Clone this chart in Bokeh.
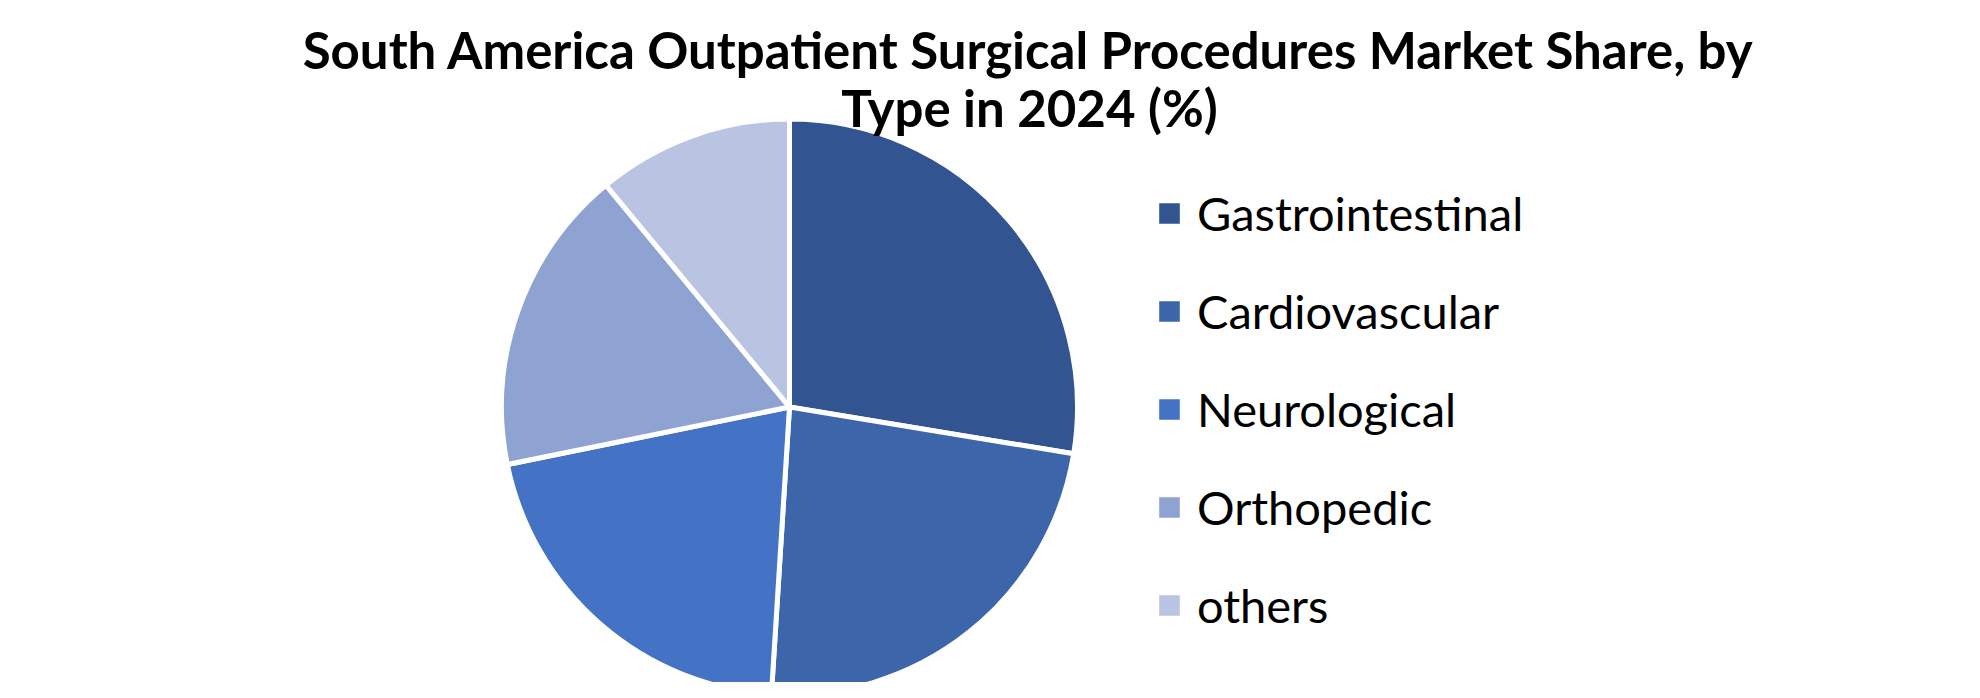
from math import pi
from bokeh.plotting import figure
from bokeh.models import ColumnDataSource, Range1d, Label, Legend, LegendItem
from bokeh.embed import file_html
from bokeh.resources import INLINE

# ---- data ----
categories = ["Gastrointestinal", "Cardiovascular", "Neurological", "Orthopedic", "others"]
shares = [27.6, 23.4, 20.8, 17.2, 11.0]
colors = ["#325591", "#3D65AA", "#4472C4", "#8FA3D3", "#B9C4E3"]
title_lines = ["South America Outpatient Surgical Procedures Market Share, by",
               "Type in 2024 (%)"]

W, H = 1964, 682
total = sum(shares)
starts, ends = [], []
cum = 0.0
for s in shares:
    starts.append(pi / 2 - cum / total * 2 * pi)
    cum += s
    ends.append(pi / 2 - cum / total * 2 * pi)

src = ColumnDataSource(dict(cat=categories, val=shares, color=colors,
                            start=starts, end=ends))

p = figure(width=W, height=H, output_backend="svg", toolbar_location=None,
           x_range=Range1d(0, W), y_range=Range1d(0, H),
           x_axis_location=None, y_axis_location=None, min_border=0,
           outline_line_color=None, background_fill_color="white",
           border_fill_color="white")
p.grid.visible = False

cx, cy = 789, 275.5
r = p.wedge(x=cx, y=cy, radius=288, radius_units="screen",
            start_angle="start", end_angle="end", direction="clock",
            fill_color="color", line_color="white", line_width=5, source=src)

items = [LegendItem(label=c, renderers=[r], index=i) for i, c in enumerate(categories)]
legend = Legend(items=items, location=(1153, 47), orientation="vertical",
                border_line_color=None, background_fill_alpha=0,
                padding=0, margin=0, spacing=38,
                glyph_width=32, glyph_height=32, label_height=60,
                label_standoff=12,
                label_text_font="Lato", label_text_font_size="47px",
                label_text_color="#000000")
p.add_layout(legend, "center")

for i, (t, x, y) in enumerate(zip(title_lines, [1028, 1029], [633, 575])):
    p.add_layout(Label(x=x, y=y, text=t, text_align="center",
                       text_baseline="alphabetic", text_font="Lato",
                       text_font_style="bold", text_font_size="51px",
                       text_color="#000000"))

open("out.html", "w").write(file_html(p, INLINE))
